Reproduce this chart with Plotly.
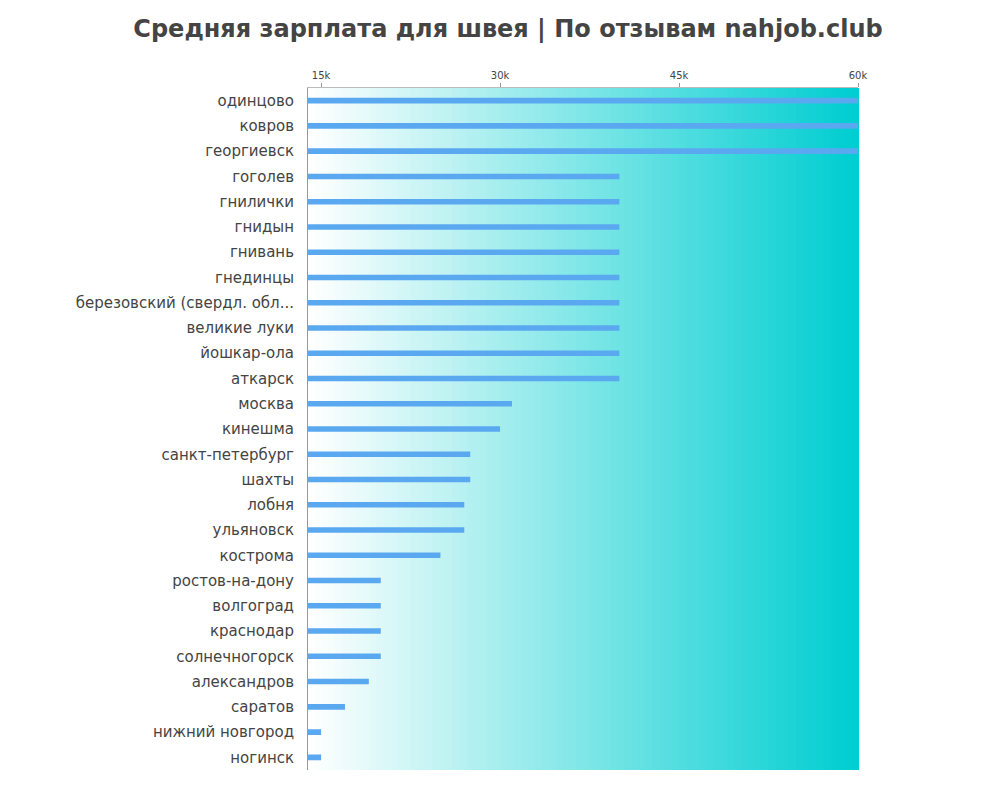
import plotly.graph_objects as go

cities = ["одинцово", "ковров", "георгиевск", "гоголев", "гнилички", "гнидын", "гнивань",
          "гнединцы", "березовский (свердл. обл...", "великие луки", "йошкар-ола", "аткарск",
          "москва", "кинешма", "санкт-петербург", "шахты", "лобня", "ульяновск", "кострома",
          "ростов-на-дону", "волгоград", "краснодар", "солнечногорск", "александров",
          "саратов", "нижний новгород", "ногинск"]
salaries = [60000, 60000, 60000, 40000, 40000, 40000, 40000, 40000, 40000, 40000, 40000, 40000,
            31000, 30000, 27500, 27500, 27000, 27000, 25000, 20000, 20000, 20000, 20000, 19000,
            17000, 15000, 15000]
tick_vals = [15000, 30000, 45000, 60000]

fig = go.Figure(go.Bar(
    x=salaries, y=cities, orientation="h", width=0.22,
    marker=dict(color="#5aa9f0", line=dict(width=0)),
))

# background gradient white -> teal
n = 80
shapes = []
for i in range(n):
    t = i / (n - 1)
    r = int(255 + (0 - 255) * t)
    g = int(255 + (206 - 255) * t)
    b = int(255 + (209 - 255) * t)
    shapes.append(dict(type="rect", xref="x domain", yref="y domain",
                       x0=i / n, x1=(i + 1) / n + 0.002, y0=0, y1=1,
                       fillcolor=f"rgb({r},{g},{b})", line=dict(width=0), layer="below"))

fig.update_layout(
    width=1000, height=800,
    title=dict(text="<b>Средняя зарплата для швея | По отзывам nahjob.club</b>",
               x=0.5, xanchor="center", y=0.985, font=dict(size=24, color="#444")),
    font=dict(family="DejaVu Sans", color="#444"),
    paper_bgcolor="white", plot_bgcolor="white",
    margin=dict(l=300, r=150, t=80, b=38),
    shapes=shapes,
    showlegend=False,
    xaxis=dict(side="top", range=[13900, 60000], tickvals=tick_vals, showgrid=False,
               zeroline=False, tickfont=dict(size=10), ticks="outside", ticklen=4,
               tickcolor="#999", showline=True, linecolor="#bbb"),
    yaxis=dict(autorange="reversed", tickfont=dict(size=15), showgrid=False,
               showline=True, linecolor="#999", ticks="", ticklabelstandoff=10),
    bargap=0.78,
)

fig.write_html("out.html")
